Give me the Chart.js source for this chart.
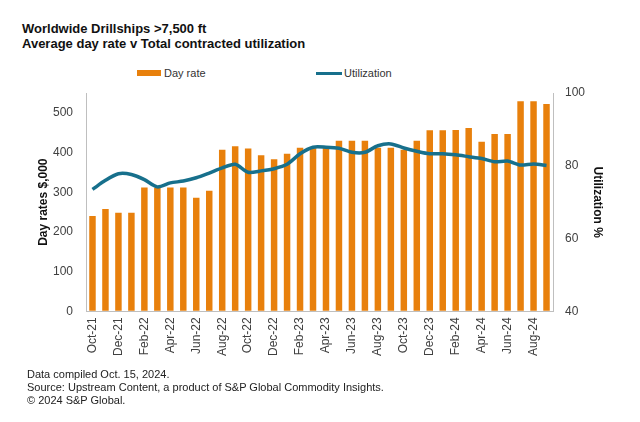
<!DOCTYPE html>
<html>
<head>
<meta charset="utf-8">
<script src="https://cdn.jsdelivr.net/npm/chart.js@4"></script>
<style>
  body { margin: 0; background: #fff; font-family: "Liberation Sans", Arial, sans-serif; }
  #wrap { position: relative; width: 640px; height: 422px; }
  #chart { position: absolute; left: 0; top: 0; }
  .title { position: absolute; left: 22px; font-weight: bold; font-size: 13px; color: #111; }
  .legend { position: absolute; top: 66px; font-size: 11px; color: #333; }
  .legend span { display: inline-block; vertical-align: middle; }
  .foot { position: absolute; left: 27px; font-size: 11px; color: #222; line-height: 13px; }
</style>
</head>
<body>
<div id="wrap">
  <div class="title" style="top:21px">Worldwide Drillships &gt;7,500 ft</div>
  <div class="title" style="top:36px">Average day rate v Total contracted utilization</div>
  <div class="legend" style="left:137px"><span style="width:24px;height:6px;background:#E8800C;margin-right:3px"></span><span>Day rate</span></div>
  <div class="legend" style="left:316px"><span style="width:26px;height:3px;background:#17708C;margin-right:2px"></span><span>Utilization</span></div>
  <canvas id="chart" width="640" height="422"></canvas>
  <div class="foot" style="top:368px">Data compiled Oct. 15, 2024.<br>Source: Upstream Content, a product of S&amp;P Global Commodity Insights.<br>&copy; 2024 S&amp;P Global.</div>
</div>
<script>
// Monthly data Oct-21 .. Sep-24
const months = ['Oct-21','Nov-21','Dec-21','Jan-22','Feb-22','Mar-22','Apr-22','May-22','Jun-22','Jul-22','Aug-22','Sep-22',
                'Oct-22','Nov-22','Dec-22','Jan-23','Feb-23','Mar-23','Apr-23','May-23','Jun-23','Jul-23','Aug-23','Sep-23',
                'Oct-23','Nov-23','Dec-23','Jan-24','Feb-24','Mar-24','Apr-24','May-24','Jun-24','Jul-24','Aug-24','Sep-24'];

const dayRate = [240, 258, 248, 248, 312, 311, 312, 312, 286, 304, 407, 416,
                 410, 393, 383, 397, 412, 411, 412, 430, 430, 430, 412, 412,
                 407, 430, 456, 456, 457, 462, 427, 447, 447, 529, 529, 522];

const utilization = [73.5, 76.0, 77.8, 77.6, 76.2, 74.2, 75.3, 75.8, 76.7, 78.0, 79.4, 80.4,
                     78.2, 78.6, 79.2, 80.4, 83.3, 85.1, 85.1, 84.8, 83.7, 83.7, 85.5, 86.0,
                     84.9, 84.0, 83.3, 83.3, 83.0, 82.5, 82.0, 81.1, 81.3, 80.2, 80.5, 80.1];

const tickFont = { family: '"Liberation Sans", Arial, sans-serif', size: 12 };
const titleFont = { family: tickFont.family, size: 12, weight: 'bold' };
const axisColor = '#BFBFBF';

const ctx = document.getElementById('chart').getContext('2d');
const chart = new Chart(ctx, {
    type: 'bar',
    data: {
        labels: months,
        datasets: [
            {
                type: 'line',
                label: 'Utilization',
                data: utilization,
                yAxisID: 'y2',
                borderColor: '#17708C',
                borderWidth: 3.5,
                pointRadius: 0,
                tension: 0.25,
                order: 0
            },
            {
                label: 'Day rate',
                data: dayRate,
                yAxisID: 'y',
                backgroundColor: '#E8800C',
                barPercentage: 0.5,
                categoryPercentage: 1,
                order: 1
            }
        ]
    },
    options: {
        responsive: false,
        animation: false,
        layout: { padding: { left: 34, right: 33, top: 93, bottom: 60 } },
        plugins: {
            legend: { display: false },
            tooltip: { enabled: false }
        },
        scales: {
            x: {
                grid: { display: true, drawOnChartArea: false, drawTicks: false },
                border: { display: true, color: axisColor },
                ticks: {
                    autoSkip: false,
                    maxRotation: 90,
                    minRotation: 90,
                    padding: 6,
                    color: '#404040',
                    font: tickFont,
                    callback: function(value, index) {
                        return index % 2 === 0 ? months[index] : '';
                    }
                }
            },
            y: {
                position: 'left',
                min: 0,
                max: 550,
                afterBuildTicks: function(axis) {
                    axis.ticks = axis.ticks.filter(t => t.value % 100 === 0);
                },
                afterFit: function(axis) { axis.width = 52; },
                grid: { display: true, drawOnChartArea: false, drawTicks: false },
                border: { display: true, color: axisColor },
                ticks: { stepSize: 100, padding: 13, color: '#404040', font: tickFont },
                title: { display: true, text: 'Day rates $,000', color: '#111', font: titleFont, padding: 2 }
            },
            y2: {
                position: 'right',
                min: 40,
                max: 100,
                afterFit: function(axis) { axis.width = 54; },
                grid: { display: true, drawOnChartArea: false, drawTicks: false },
                border: { display: true, color: axisColor },
                ticks: { stepSize: 20, padding: 12, color: '#404040', font: tickFont },
                title: { display: true, text: 'Utilization %', color: '#111', font: titleFont, padding: 2 }
            }
        }
    }
});
</script>
</body>
</html>
